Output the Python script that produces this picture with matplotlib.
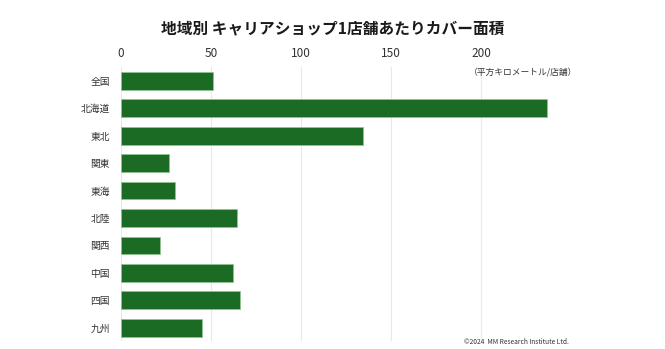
import matplotlib.pyplot as plt

plt.rcParams['font.family'] = ['Noto Sans CJK JP', 'DejaVu Sans']

regions = ['全国', '北海道', '東北', '関東', '東海', '北陸', '関西', '中国', '四国', '九州']
area_per_shop = [51.1, 236.7, 134.6, 26.9, 29.8, 64.4, 21.9, 61.9, 66.3, 44.8]

fig = plt.figure(figsize=(6.65, 3.49), dpi=100)
ax = fig.add_axes([0.182, 0.023, 0.650, 0.785])

ax.barh(range(len(regions)), area_per_shop, height=0.65, color='#1b6b25',
        edgecolor='#8fc48f', linewidth=0.6, zorder=3)

ax.set_xlim(0, 240)
ax.set_ylim(9.48, -0.5)
ax.set_xticks([0, 50, 100, 150, 200])
ax.set_yticks(range(len(regions)))
ax.set_yticklabels(regions)
ax.xaxis.tick_top()
ax.tick_params(axis='both', length=0, labelsize=7, colors='#333333')
ax.tick_params(axis='x', pad=5, labelsize=8.5)
ax.tick_params(axis='y', pad=8)
ax.grid(axis='x', color='#e8e8e8', linewidth=0.8, zorder=0)
for s in ax.spines.values():
    s.set_visible(False)

fig.text(0.5, 0.92, '地域別 キャリアショップ1店舗あたりカバー面積',
         ha='center', va='center', fontsize=11.3, fontweight='bold', color='#1a1a1a')
fig.text(0.868, 0.795, '（平方キロメートル/店舗）', ha='right', va='center',
         fontsize=6.3, color='#333333')
fig.text(0.855, 0.02, '©2024  MM Research Institute Ltd.', ha='right', va='center',
         fontsize=4.8, color='#333333')

fig.savefig('out.png', dpi=100)
